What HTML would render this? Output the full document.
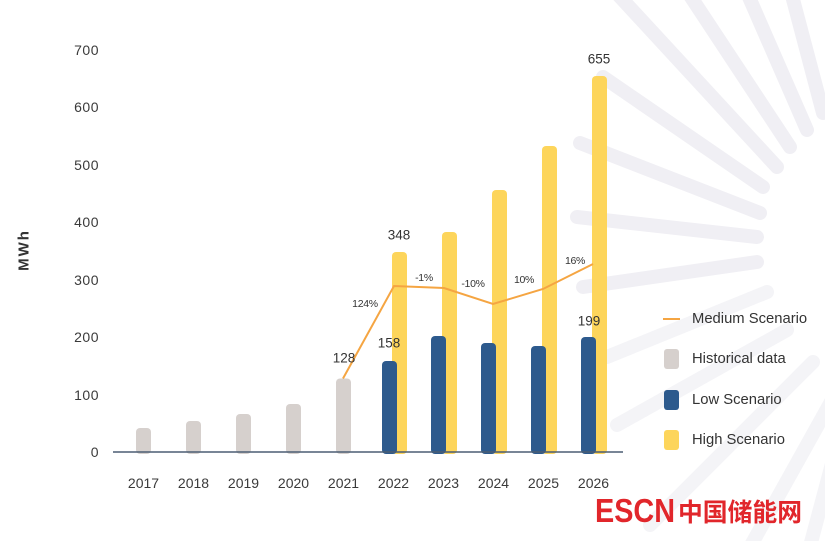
<!DOCTYPE html>
<html>
<head>
<meta charset="utf-8">
<style>
html,body{margin:0;padding:0;background:#fff;}
svg{display:block;}
text{font-family:"Liberation Sans", "Noto Sans CJK SC", sans-serif;}
</style>
</head>
<body>
<svg width="825" height="541" viewBox="0 0 825 541" xmlns="http://www.w3.org/2000/svg">
<rect width="825" height="541" fill="#ffffff"/>
<!-- sunburst rays -->
<g stroke="#F0EFF4" stroke-width="14" stroke-linecap="round" fill="none">
<line x1="610" y1="-14" x2="777" y2="167"/>
<line x1="685" y1="-12" x2="790" y2="147"/>
<line x1="745" y1="-12" x2="807" y2="130"/>
<line x1="790" y1="-12" x2="823" y2="113"/>
<line x1="603" y1="77" x2="763" y2="187"/>
<line x1="580" y1="143" x2="760" y2="213"/>
<line x1="577" y1="217" x2="757" y2="237"/>
<line x1="583" y1="287" x2="757" y2="262"/>
</g>
<g stroke="#F4F4F7" stroke-width="14" stroke-linecap="round" fill="none">
<line x1="607" y1="357" x2="767" y2="292"/>
<line x1="617" y1="425" x2="787" y2="330"/>
<line x1="650" y1="525" x2="813" y2="362"/>
<line x1="740" y1="565" x2="832" y2="400"/>
<line x1="805" y1="565" x2="845" y2="415"/>
</g>

<!-- y axis label -->
<text x="24" y="250" transform="rotate(-90 24 250)" text-anchor="middle" dominant-baseline="central" font-size="15" font-weight="bold" letter-spacing="2" fill="#333">MWh</text>

<!-- y ticks -->
<g font-size="14" fill="#3a3a3a" text-anchor="end" dominant-baseline="central" letter-spacing="0.5">
<text x="99" y="452">0</text>
<text x="99" y="395">100</text>
<text x="99" y="337">200</text>
<text x="99" y="280">300</text>
<text x="99" y="222">400</text>
<text x="99" y="165">500</text>
<text x="99" y="107">600</text>
<text x="99" y="50">700</text>
</g>

<!-- historical bars -->
<g fill="#D6D0CD">
<rect x="136" y="428" width="15" height="26" rx="4"/>
<rect x="186" y="421" width="15" height="33" rx="4"/>
<rect x="236" y="414" width="15" height="40" rx="4"/>
<rect x="286" y="404" width="15" height="50" rx="4"/>
<rect x="336" y="378.5" width="15" height="75.5" rx="4"/>
</g>
<!-- high scenario -->
<g fill="#FDD55B">
<rect x="392" y="252" width="15" height="202" rx="4"/>
<rect x="442" y="232" width="15" height="222" rx="4"/>
<rect x="492" y="190" width="15" height="264" rx="4"/>
<rect x="542" y="146" width="15" height="308" rx="4"/>
<rect x="592" y="76" width="15" height="378" rx="4"/>
</g>
<!-- low scenario -->
<g fill="#2D5A8D">
<rect x="382" y="361" width="15" height="93" rx="4"/>
<rect x="431" y="336" width="15" height="118" rx="4"/>
<rect x="481" y="343" width="15" height="111" rx="4"/>
<rect x="531" y="346" width="15" height="108" rx="4"/>
<rect x="581" y="337" width="15" height="117" rx="4"/>
</g>

<!-- axis -->
<line x1="113" y1="452" x2="623" y2="452" stroke="#4B5D73" stroke-width="1.6"/>

<!-- medium line -->
<polyline points="343,378.5 394,286 444,288 493,304 543,289 593,264" fill="none" stroke="#F5A542" stroke-width="2"/>

<!-- value labels -->
<g font-size="13.5" fill="#333" text-anchor="middle" dominant-baseline="central">
<text x="344" y="358">128</text>
<text x="389" y="343">158</text>
<text x="399" y="235">348</text>
<text x="589" y="321">199</text>
<text x="599" y="59">655</text>
</g>
<!-- percentage labels -->
<g font-size="10.5" fill="#333" text-anchor="middle" dominant-baseline="central" letter-spacing="-0.3">
<text x="365" y="304">124%</text>
<text x="424" y="278">-1%</text>
<text x="473" y="284">-10%</text>
<text x="524" y="280">10%</text>
<text x="575" y="261">16%</text>
</g>

<!-- x labels -->
<g font-size="14" fill="#3a3a3a" text-anchor="middle" dominant-baseline="central">
<text x="143.5" y="483">2017</text>
<text x="193.5" y="483">2018</text>
<text x="243.5" y="483">2019</text>
<text x="293.5" y="483">2020</text>
<text x="343.5" y="483">2021</text>
<text x="393.5" y="483">2022</text>
<text x="443.5" y="483">2023</text>
<text x="493.5" y="483">2024</text>
<text x="543.5" y="483">2025</text>
<text x="593.5" y="483">2026</text>
</g>

<!-- legend -->
<line x1="663" y1="319" x2="680" y2="319" stroke="#F5A542" stroke-width="2"/>
<rect x="664" y="349" width="15" height="20" rx="3" fill="#D6D0CD"/>
<rect x="664" y="390" width="15" height="20" rx="3" fill="#2D5A8D"/>
<rect x="664" y="430" width="15" height="20" rx="3" fill="#FDD55B"/>
<g font-size="14.8" fill="#333" dominant-baseline="central">
<text x="692" y="319">Medium Scenario</text>
<text x="692" y="359">Historical data</text>
<text x="692" y="400">Low Scenario</text>
<text x="692" y="440">High Scenario</text>
</g>

<!-- logo -->
<text x="595" y="522" font-size="33" font-weight="bold" fill="#E1262B" textLength="80" lengthAdjust="spacingAndGlyphs">ESCN</text>
<text x="678" y="521" font-size="25" font-weight="bold" fill="#E1262B" textLength="124" lengthAdjust="spacingAndGlyphs" style="font-family:'Noto Sans CJK SC','WenQuanYi Zen Hei',sans-serif">中国储能网</text>
</svg>
</body>
</html>
